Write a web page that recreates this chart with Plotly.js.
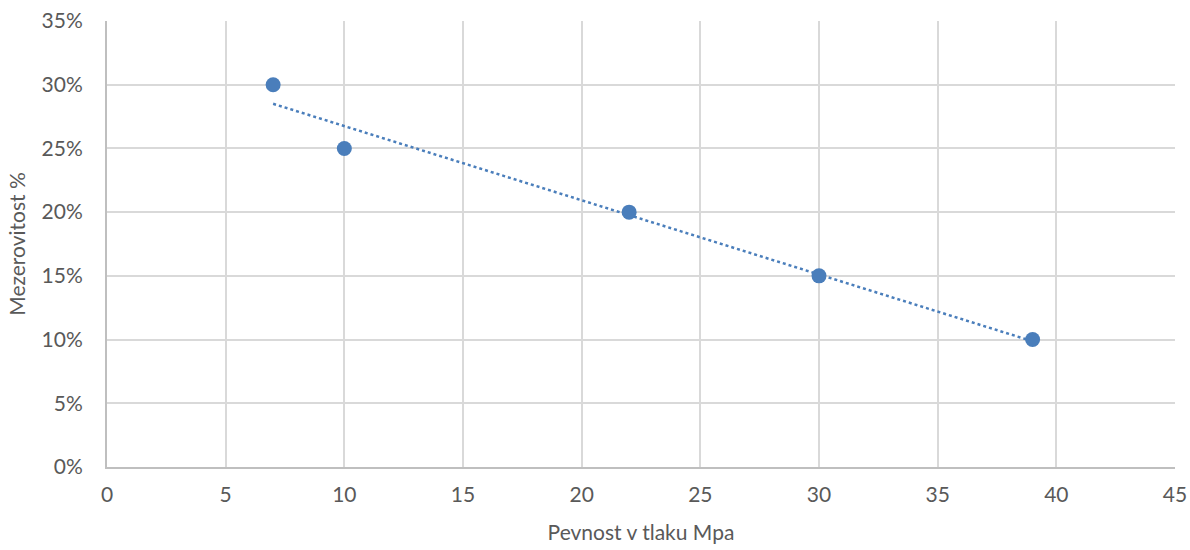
<!DOCTYPE html>
<html><head><meta charset="utf-8">
<script src="https://cdn.plot.ly/plotly-3.0.1.min.js"></script>
<style>html,body{margin:0;padding:0;background:#fff}#chart{width:1190px;height:550px}</style>
</head><body><div id="chart"></div>
<script>
const pevnost = [7, 10, 22, 30, 39];
const mezerovitost = [0.30, 0.25, 0.20, 0.15, 0.10];
const xTitle = "Pevnost v tlaku Mpa";
const yTitle = "Mezerovitost %";

// linear trendline (least squares) from the data
const n = pevnost.length;
const mx = pevnost.reduce((a,b)=>a+b,0)/n;
const my = mezerovitost.reduce((a,b)=>a+b,0)/n;
let sxy=0, sxx=0;
for (let i=0;i<n;i++){ sxy+=(pevnost[i]-mx)*(mezerovitost[i]-my); sxx+=(pevnost[i]-mx)**2; }
const slope = sxy/sxx, icpt = my - slope*mx;
const tx = [Math.min(...pevnost), Math.max(...pevnost)];
const ty = tx.map(x=>icpt+slope*x);

const color = "#4a7ebb";
const font = "Lato, 'Open Sans', sans-serif";
const data = [
  {x: tx, y: ty, mode: "lines", type: "scatter", line:{color:color, width:2.5, dash:"dot"}, hoverinfo:"skip", showlegend:false},
  {x: pevnost, y: mezerovitost, mode: "markers", type: "scatter", marker:{color:color, size:15}, showlegend:false}
];
const layout = {
  width:1190, height:550,
  margin:{l:107, r:15, t:21, b:83},
  paper_bgcolor:"#fff", plot_bgcolor:"#fff",
  font:{family:font, color:"#595959", size:21},
  xaxis:{range:[0,45], dtick:5, tick0:0, showgrid:true, gridcolor:"#d9d9d9", gridwidth:2,
    zeroline:false, showline:true, linecolor:"#bfbfbf", linewidth:2, ticks:"", ticklen:0,
    ticklabelstandoff:8,
    tickfont:{size:21, color:"#595959"},
    title:{text:xTitle, font:{size:21, color:"#595959"}, standoff:20}},
  yaxis:{range:[0,0.35], dtick:0.05, tick0:0, tickformat:".0%", showgrid:true, gridcolor:"#d9d9d9", gridwidth:2,
    zeroline:false, showline:true, linecolor:"#bfbfbf", linewidth:2, ticks:"", ticklen:0,
    ticklabelstandoff:18,
    tickfont:{size:21, color:"#595959"},
    title:{text:yTitle, font:{size:21, color:"#595959"}, standoff:10}}
};
Plotly.newPlot("chart", data, layout, {displayModeBar:false, staticPlot:true});
</script></body></html>
